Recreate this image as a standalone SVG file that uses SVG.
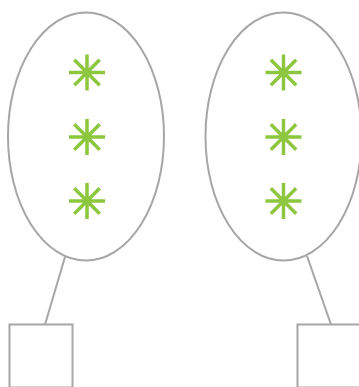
<svg xmlns="http://www.w3.org/2000/svg" width="359" height="387" viewBox="0 0 359 387">
<defs>
<style>
.sh{fill:#fff;stroke:#a6a6a6;stroke-width:2}
.ln{stroke:#a6a6a6;stroke-width:2;fill:none}
.ast{stroke:#8dc63f;stroke-width:3.5;fill:none}
</style>
<g id="star" class="ast">
<path d="M0,-18V18M-18,0H18M-12.7,-12.7L12.7,12.7M-12.7,12.7L12.7,-12.7"/>
</g>
</defs>
<rect width="359" height="387" fill="#fff"/>
<g id="connectors">
<line class="ln" x1="65" y1="257" x2="45" y2="324.5"/>
<line class="ln" x1="307" y1="256" x2="331" y2="324.5"/>
</g>
<g id="ellipse-left">
<ellipse class="sh" cx="86" cy="136.5" rx="78" ry="124"/>
<use href="#star" x="87" y="72.5"/>
<use href="#star" x="87" y="137"/>
<use href="#star" x="87" y="201"/>
</g>
<g id="ellipse-right">
<ellipse class="sh" cx="283.5" cy="136.5" rx="78" ry="124"/>
<use href="#star" x="283.5" y="72.5"/>
<use href="#star" x="283.5" y="137"/>
<use href="#star" x="283.5" y="201"/>
</g>
<g id="box-left">
<rect class="sh" x="9.5" y="324.5" width="63" height="63"/>
</g>
<g id="box-right">
<rect class="sh" x="297.5" y="324.5" width="63" height="63"/>
</g>
</svg>
